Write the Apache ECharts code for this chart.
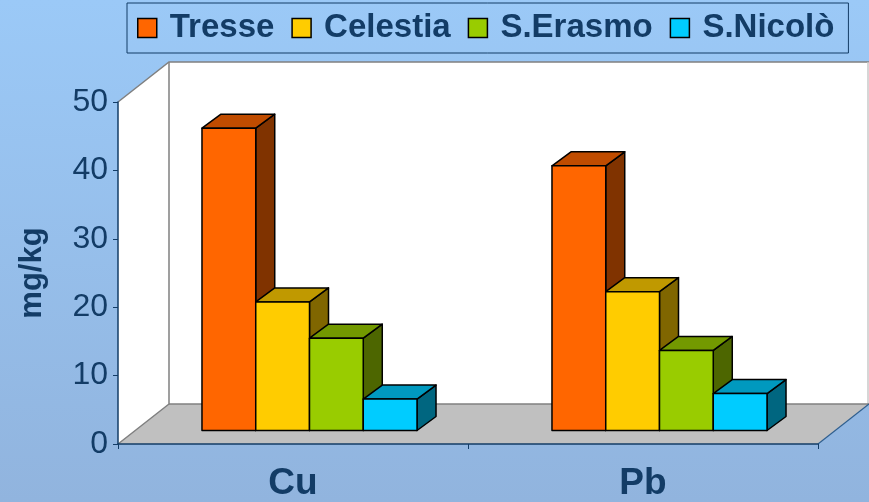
<!DOCTYPE html>
<html>
<head>
<meta charset="utf-8">
<script src="https://cdn.jsdelivr.net/npm/echarts@6/dist/echarts.min.js"></script>
<style>
  html, body { margin: 0; padding: 0; }
  #main { width: 869px; height: 502px; }
</style>
</head>
<body>
<div id="main"></div>
<script>
var categories = ['Cu', 'Pb'];
var seriesNames = ['Tresse', 'Celestia', 'S.Erasmo', 'S.Nicolò'];
var tresse = [44.2, 38.7];
var celestia = [18.8, 20.3];
var erasmo = [13.5, 11.7];
var nicolo = [4.6, 5.4];
var yTicks = [0, 10, 20, 30, 40, 50];

// colori: fronte, top, lato
var colors = [
  ['#FF6600', '#C04C00', '#803300'],
  ['#FFCC00', '#C09900', '#806600'],
  ['#99CC00', '#739900', '#4D6600'],
  ['#00CCFF', '#0099BF', '#006680']
];
var navy = '#133C66';
var font = "'Liberation Sans', Arial, sans-serif";

// prospettiva
var DEPTH_X = 51, DEPTH_Y = -40;   // profondità pareti
var FRONT_X = 16.5, FRONT_Y = -13.5; // spostamento faccia anteriore barre
var BAR_X = 19, BAR_Y = -14;       // profondità barre
var BAR_FRAC = 0.1536;             // larghezza barra / banda

var myChart = echarts.init(document.getElementById('main'));

function renderWalls(params, api) {
  var cs = params.coordSys;
  var x = cs.x, y = cs.y, w = cs.width, h = cs.height;
  var line = { fill: null, stroke: '#808080', lineWidth: 1.5 };
  return {
    type: 'group',
    children: [
      { type: 'polygon', shape: { points: [[x, y], [x + DEPTH_X, y + DEPTH_Y], [x + DEPTH_X, y + h + DEPTH_Y], [x, y + h]] },
        style: { fill: '#FFFFFF', stroke: null } },
      { type: 'rect', shape: { x: x + DEPTH_X, y: y + DEPTH_Y, width: w, height: h },
        style: { fill: '#FFFFFF', stroke: null } },
      { type: 'polygon', shape: { points: [[x, y + h], [x + DEPTH_X, y + h + DEPTH_Y], [x + w + DEPTH_X, y + h + DEPTH_Y], [x + w, y + h]] },
        style: { fill: '#C0C0C0', stroke: null } },
      { type: 'polyline', shape: { points: [[x, y], [x + DEPTH_X, y + DEPTH_Y], [x + w + DEPTH_X, y + DEPTH_Y]] }, style: line },
      { type: 'polyline', shape: { points: [[x + w + DEPTH_X - 1, y + DEPTH_Y], [x + w + DEPTH_X - 1, y + h + DEPTH_Y]] },
        style: { fill: null, stroke: '#C8C8C8', lineWidth: 1.5 } },
      { type: 'polyline', shape: { points: [[x, y + h], [x + DEPTH_X, y + h + DEPTH_Y], [x + DEPTH_X, y + DEPTH_Y]] }, style: line },
      { type: 'polyline', shape: { points: [[x + DEPTH_X, y + h + DEPTH_Y], [x + w + DEPTH_X, y + h + DEPTH_Y]] }, style: line },
      { type: 'polyline', shape: { points: [[x + w, y + h], [x + w + DEPTH_X, y + h + DEPTH_Y]] },
        style: { fill: null, stroke: '#2F5F8F', lineWidth: 1.2 } }
    ]
  };
}

function makeBarRenderer(idx) {
  return function (params, api) {
    var cat = api.value(0);
    var base = api.coord([cat, 0]);
    var top = api.coord([cat, api.value(1)]);
    var bw = api.size([1, 0])[0] * BAR_FRAC;
    var x0 = base[0] + FRONT_X - 2 * bw + idx * bw;
    var x1 = x0 + bw;
    var yb = base[1] + FRONT_Y;
    var yt = top[1] + FRONT_Y;
    var edge = { stroke: '#000000', lineWidth: 1.5, lineJoin: 'round' };
    var c = colors[idx];
    return {
      type: 'group',
      children: [
        { type: 'polygon', shape: { points: [[x1, yt], [x1 + BAR_X, yt + BAR_Y], [x1 + BAR_X, yb + BAR_Y], [x1, yb]] },
          style: Object.assign({ fill: c[2] }, edge) },
        { type: 'polygon', shape: { points: [[x0, yt], [x0 + BAR_X, yt + BAR_Y], [x1 + BAR_X, yt + BAR_Y], [x1, yt]] },
          style: Object.assign({ fill: c[1] }, edge) },
        { type: 'rect', shape: { x: x0, y: yt, width: bw, height: yb - yt },
          style: Object.assign({ fill: c[0] }, edge) }
      ]
    };
  };
}

var values = [tresse, celestia, erasmo, nicolo];
var series = [{
  type: 'custom',
  name: 'pareti',
  renderItem: renderWalls,
  data: [[0, 0]],
  silent: true,
  z: 1
}];
values.forEach(function (arr, i) {
  series.push({
    type: 'custom',
    name: seriesNames[i],
    renderItem: makeBarRenderer(i),
    encode: { x: 0, y: 1 },
    itemStyle: { color: colors[i][0] },
    data: arr.map(function (v, k) { return [k, v]; }),
    z: 2
  });
});

var Option = {
  backgroundColor: {
    type: 'linear', x: 0, y: 0, x2: 0, y2: 1,
    colorStops: [{ offset: 0, color: '#9BC9F7' }, { offset: 1, color: '#91B4DE' }]
  },
  animation: false,
  legend: {
    data: seriesNames,
    left: 127,
    top: 3,
    padding: [5, 14, 5, 10],
    itemGap: 17,
    itemWidth: 19,
    itemHeight: 19,
    icon: 'rect',
    borderColor: navy,
    borderWidth: 1,
    itemStyle: { borderColor: '#000000', borderWidth: 1.5 },
    textStyle: {
      color: navy, fontSize: 33, fontWeight: 'bold', fontFamily: font,
      lineHeight: 40, padding: [0, 0, 0, 8]
    }
  },
  grid: { left: 118, right: 51, top: 102, bottom: 56 },
  xAxis: {
    type: 'category',
    data: categories,
    z: 5,
    axisLine: { lineStyle: { color: navy, width: 1.5 } },
    axisTick: { show: true, length: 5, lineStyle: { color: navy } },
    axisLabel: { color: navy, fontSize: 37, fontWeight: 'bold', fontFamily: font, margin: 21 }
  },
  yAxis: {
    type: 'value',
    min: yTicks[0],
    max: yTicks[yTicks.length - 1],
    interval: yTicks[1] - yTicks[0],
    z: 5,
    name: 'mg/kg',
    nameLocation: 'middle',
    nameGap: 70,
    nameTextStyle: { color: navy, fontSize: 31, fontWeight: 'bold', fontFamily: font },
    axisLine: { show: true, lineStyle: { color: navy, width: 1.5 } },
    axisTick: { show: true, length: 5, lineStyle: { color: navy } },
    splitLine: { show: false },
    axisLabel: { color: navy, fontSize: 32, fontFamily: font, margin: 10 }
  },
  series: series
};

Option && myChart.setOption(Option);
</script>
</body>
</html>
